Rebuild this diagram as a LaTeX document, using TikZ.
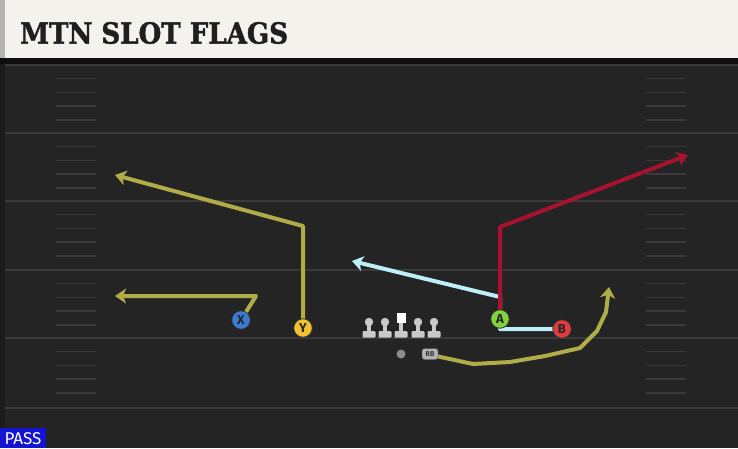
\documentclass[tikz,border=0pt]{standalone}
\usepackage{fontspec}
\usepackage{tikz}
\usetikzlibrary{arrows.meta}
\newfontfamily\titlefont{DejaVu Serif Condensed}[BoldFont={DejaVu Serif Condensed Bold}, BoldFeatures={FakeBold=1.5}]
\setsansfont{Fira Sans}

\definecolor{headbg}{HTML}{F4F2EC}
\definecolor{fieldbg}{HTML}{242424}
\definecolor{yardline}{HTML}{3A3A3A}
\definecolor{olive}{HTML}{B0AC48}
\definecolor{iceblue}{HTML}{BDEFF8}
\definecolor{crimson}{HTML}{A8122F}
\definecolor{xblue}{HTML}{3B7BD8}
\definecolor{yyellow}{HTML}{F2C22E}
\definecolor{agreen}{HTML}{7ED43A}
\definecolor{bred}{HTML}{E23B3E}
\definecolor{olgray}{HTML}{C9C9C9}
\definecolor{passblue}{HTML}{1414D2}

\tikzset{
  route/.style={line width=4pt, line join=round, -{Stealth[length=11pt,width=15pt,inset=3pt]}},
  player/.style={circle, draw=black!80, line width=0.8pt, minimum size=18.5pt, inner sep=0pt,
    font=\sffamily\bfseries\fontsize{13}{13}\selectfont, text=black!85},
  hash/.style={yardline, line width=1.5pt}
}

\begin{document}
\begin{tikzpicture}[x=1pt,y=-1pt]
  \useasboundingbox (0,0) rectangle (738,448);
  % field and header
  \fill[fieldbg] (0,0) rectangle (738,448);
  \fill[black!60!fieldbg] (0,56) rectangle (738,64);
  \fill[headbg] (0,0) rectangle (738,58);
  \fill[black!30] (0,0) rectangle (5,58);
  \fill[black!25!fieldbg] (0,64) rectangle (5,448);
  \node[anchor=west, inner sep=0pt, text=black!88] (title) at (20,33)
    {\titlefont\bfseries\fontsize{29}{29}\selectfont MTN SLOT FLAGS};
  % yard lines and hashes
  \foreach \yl in {65,133,201,270,338,408}
    \draw[yardline, line width=2pt] (5,\yl) -- (738,\yl);
  \foreach \yl in {65,133,201,270,338} {
    \foreach \k in {1,...,4} {
      \draw[hash] (56,\yl+13.7*\k) -- (96,\yl+13.7*\k);
      \draw[hash] (646,\yl+13.7*\k) -- (686,\yl+13.7*\k);
    }
  }
  % route corners
  \coordinate (xbreak) at (256,296);
  \coordinate (xend) at (115,296);
  \coordinate (ybreak) at (303,226);
  \coordinate (yend) at (115,175);
  \coordinate (abreak) at (500,227);
  \coordinate (aend) at (688,155);
  \coordinate (bunder) at (500,329);
  \coordinate (bbreak) at (500,297);
  \coordinate (bend) at (352,261);
  \coordinate (rbend) at (609,287);
  % routes
  \draw[route, olive] (241,320) -- (xbreak) -- (xend);
  \draw[route, olive] (303,328) -- (ybreak) -- (yend);
  \draw[route, iceblue] (562,329) -- (bunder) -- (bbreak) -- (bend);
  \draw[route, crimson] (500,319) -- (abreak) -- (aend);
  \draw[route, olive] (436,356) -- (473,364) -- (510,362) -- (545,356) -- (580,348)
    -- (597,331) -- (606,312) -- (rbend);
  % line
  \foreach \ox in {369,385,418,434} {
    \fill[olgray] (\ox-2,323) rectangle (\ox+2,333);
    \fill[olgray] (\ox,322) circle (4.2);
    \fill[olgray, rounded corners=1pt] (\ox-6.5,331) rectangle (\ox+6.5,337.5);
  }
  \fill[olgray] (399,322) rectangle (403,333);
  \fill[olgray, rounded corners=1pt] (394.5,331) rectangle (407.5,337.5);
  \fill[white] (396.5,313) rectangle (405.5,323);
  \node[circle, fill=black!45, minimum size=9pt, inner sep=0pt] (qb) at (401,354) {};
  \node[draw=black!70, fill=black!30, rounded corners=2.5pt, minimum width=16pt, minimum height=11pt,
    inner sep=0pt, font=\sffamily\bfseries\fontsize{7}{7}\selectfont, text=black!80] (rb) at (430,354) {RB};
  % players
  \node[player, fill=xblue] (x) at (241,320) {X};
  \node[player, fill=yyellow] (y) at (303,328) {Y};
  \node[player, fill=agreen] (a) at (500,319) {A};
  \node[player, fill=bred] (b) at (562,329) {B};
  % play type
  \fill[passblue] (0,428) rectangle (46,448);
  \node[text=white, font=\sffamily\fontsize{17}{17}\selectfont, inner sep=0pt] (pass) at (23,438.5) {PASS};
\end{tikzpicture}
\end{document}
